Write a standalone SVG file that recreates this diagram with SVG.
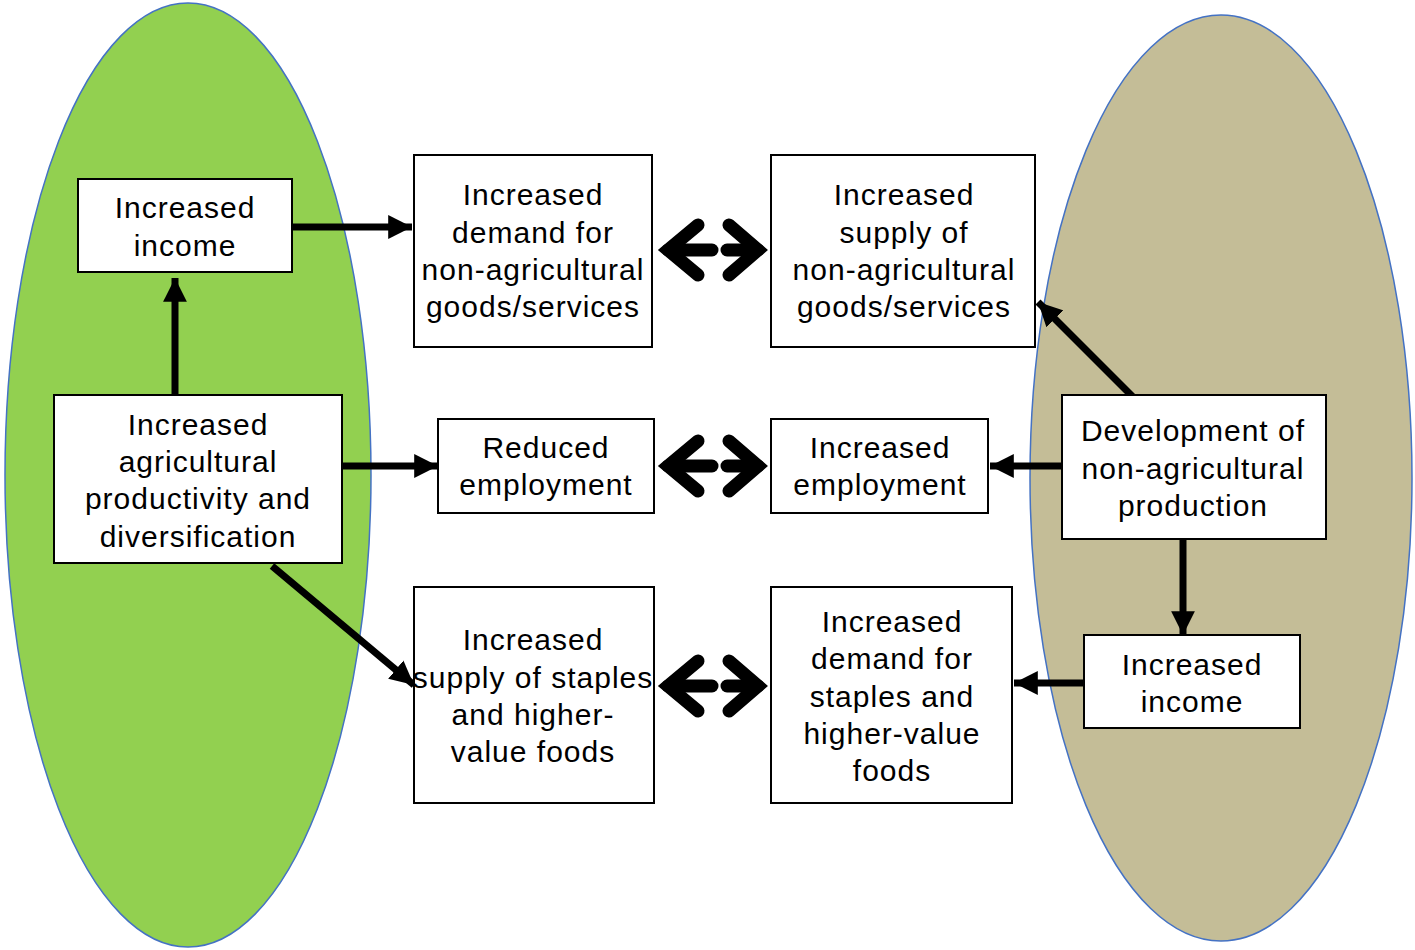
<svg xmlns="http://www.w3.org/2000/svg" width="1415" height="950" viewBox="0 0 1415 950">
<defs>
<style>
.box{fill:#fff;stroke:#000;stroke-width:2}
.t{font-family:"Liberation Sans",Arial,sans-serif;font-size:30px;letter-spacing:1px;fill:#000;text-anchor:middle}
.ln{stroke:#000;stroke-width:7;fill:none}
.ch{stroke:#000;stroke-width:13;fill:none;stroke-linecap:round;stroke-linejoin:miter}
</style>
<marker id="ah" viewBox="0 0 10 10" refX="10" refY="5" markerWidth="3.4" markerHeight="3.6" markerUnits="strokeWidth" orient="auto">
<path d="M0,0 L10,5 L0,10 Z" fill="#000"/>
</marker>
</defs>
<rect width="1415" height="950" fill="#fff"/>
<g id="ellipses">
<ellipse cx="188" cy="475" rx="183" ry="472" fill="#92D050" stroke="#4472C4" stroke-width="1.5"/>
<ellipse cx="1221" cy="478" rx="191" ry="463" fill="#C4BD97" stroke="#4472C4" stroke-width="1.5"/>
</g>
<g id="connectors">
<line class="ln" x1="292" y1="227" x2="412" y2="227" marker-end="url(#ah)"/>
<line class="ln" x1="175" y1="395" x2="175" y2="278" marker-end="url(#ah)"/>
<line class="ln" x1="342" y1="466" x2="438" y2="466" marker-end="url(#ah)"/>
<line class="ln" x1="272" y1="566" x2="414" y2="685" marker-end="url(#ah)"/>
<line class="ln" x1="1133" y1="397" x2="1038" y2="302" marker-end="url(#ah)"/>
<line class="ln" x1="1062" y1="466" x2="990" y2="466" marker-end="url(#ah)"/>
<line class="ln" x1="1183" y1="540" x2="1183" y2="635" marker-end="url(#ah)"/>
<line class="ln" x1="1084" y1="683" x2="1014" y2="683" marker-end="url(#ah)"/>
<g id="double-arrow-1">
<polyline class="ch" points="698,225 668,250 698,275"/>
<line class="ch" x1="668" y1="250" x2="712" y2="250" stroke-linecap="butt"/>
<polyline class="ch" points="729,225 758,250 729,275"/>
<line class="ch" x1="727" y1="250" x2="758" y2="250" stroke-linecap="butt"/>
</g>
<g id="double-arrow-2">
<polyline class="ch" points="698,441 668,466 698,491"/>
<line class="ch" x1="668" y1="466" x2="712" y2="466" stroke-linecap="butt"/>
<polyline class="ch" points="729,441 758,466 729,491"/>
<line class="ch" x1="727" y1="466" x2="758" y2="466" stroke-linecap="butt"/>
</g>
<g id="double-arrow-3">
<polyline class="ch" points="698,661 668,686 698,711"/>
<line class="ch" x1="668" y1="686" x2="712" y2="686" stroke-linecap="butt"/>
<polyline class="ch" points="729,661 758,686 729,711"/>
<line class="ch" x1="727" y1="686" x2="758" y2="686" stroke-linecap="butt"/>
</g>
</g>
<g id="income-left">
<rect class="box" x="78" y="179" width="214" height="93"/>
<text class="t" x="185" y="218">Increased</text>
<text class="t" x="185" y="256">income</text>
</g>
<g id="demand-nonag">
<rect class="box" x="414" y="155" width="238" height="192"/>
<text class="t" x="533" y="205">Increased</text>
<text class="t" x="533" y="243">demand for</text>
<text class="t" x="533" y="280">non-agricultural</text>
<text class="t" x="533" y="317">goods/services</text>
</g>
<g id="supply-nonag">
<rect class="box" x="771" y="155" width="264" height="192"/>
<text class="t" x="904" y="205">Increased</text>
<text class="t" x="904" y="243">supply of</text>
<text class="t" x="904" y="280">non-agricultural</text>
<text class="t" x="904" y="317">goods/services</text>
</g>
<g id="agri-productivity">
<rect class="box" x="54" y="395" width="288" height="168"/>
<text class="t" x="198" y="435">Increased</text>
<text class="t" x="198" y="472">agricultural</text>
<text class="t" x="198" y="509">productivity and</text>
<text class="t" x="198" y="547">diversification</text>
</g>
<g id="reduced-employment">
<rect class="box" x="438" y="419" width="216" height="94"/>
<text class="t" x="546" y="458">Reduced</text>
<text class="t" x="546" y="495">employment</text>
</g>
<g id="increased-employment">
<rect class="box" x="771" y="419" width="217" height="94"/>
<text class="t" x="880" y="458">Increased</text>
<text class="t" x="880" y="495">employment</text>
</g>
<g id="development-nonag">
<rect class="box" x="1062" y="395" width="264" height="144"/>
<text class="t" x="1193" y="441">Development of</text>
<text class="t" x="1193" y="479">non-agricultural</text>
<text class="t" x="1193" y="516">production</text>
</g>
<g id="income-right">
<rect class="box" x="1084" y="635" width="216" height="93"/>
<text class="t" x="1192" y="675">Increased</text>
<text class="t" x="1192" y="712">income</text>
</g>
<g id="supply-staples">
<rect class="box" x="414" y="587" width="240" height="216"/>
<text class="t" x="533" y="650">Increased</text>
<text class="t" x="533" y="688">supply of staples</text>
<text class="t" x="533" y="725">and higher-</text>
<text class="t" x="533" y="762">value foods</text>
</g>
<g id="demand-staples">
<rect class="box" x="771" y="587" width="241" height="216"/>
<text class="t" x="892" y="632">Increased</text>
<text class="t" x="892" y="669">demand for</text>
<text class="t" x="892" y="707">staples and</text>
<text class="t" x="892" y="744">higher-value</text>
<text class="t" x="892" y="781">foods</text>
</g>
</svg>
